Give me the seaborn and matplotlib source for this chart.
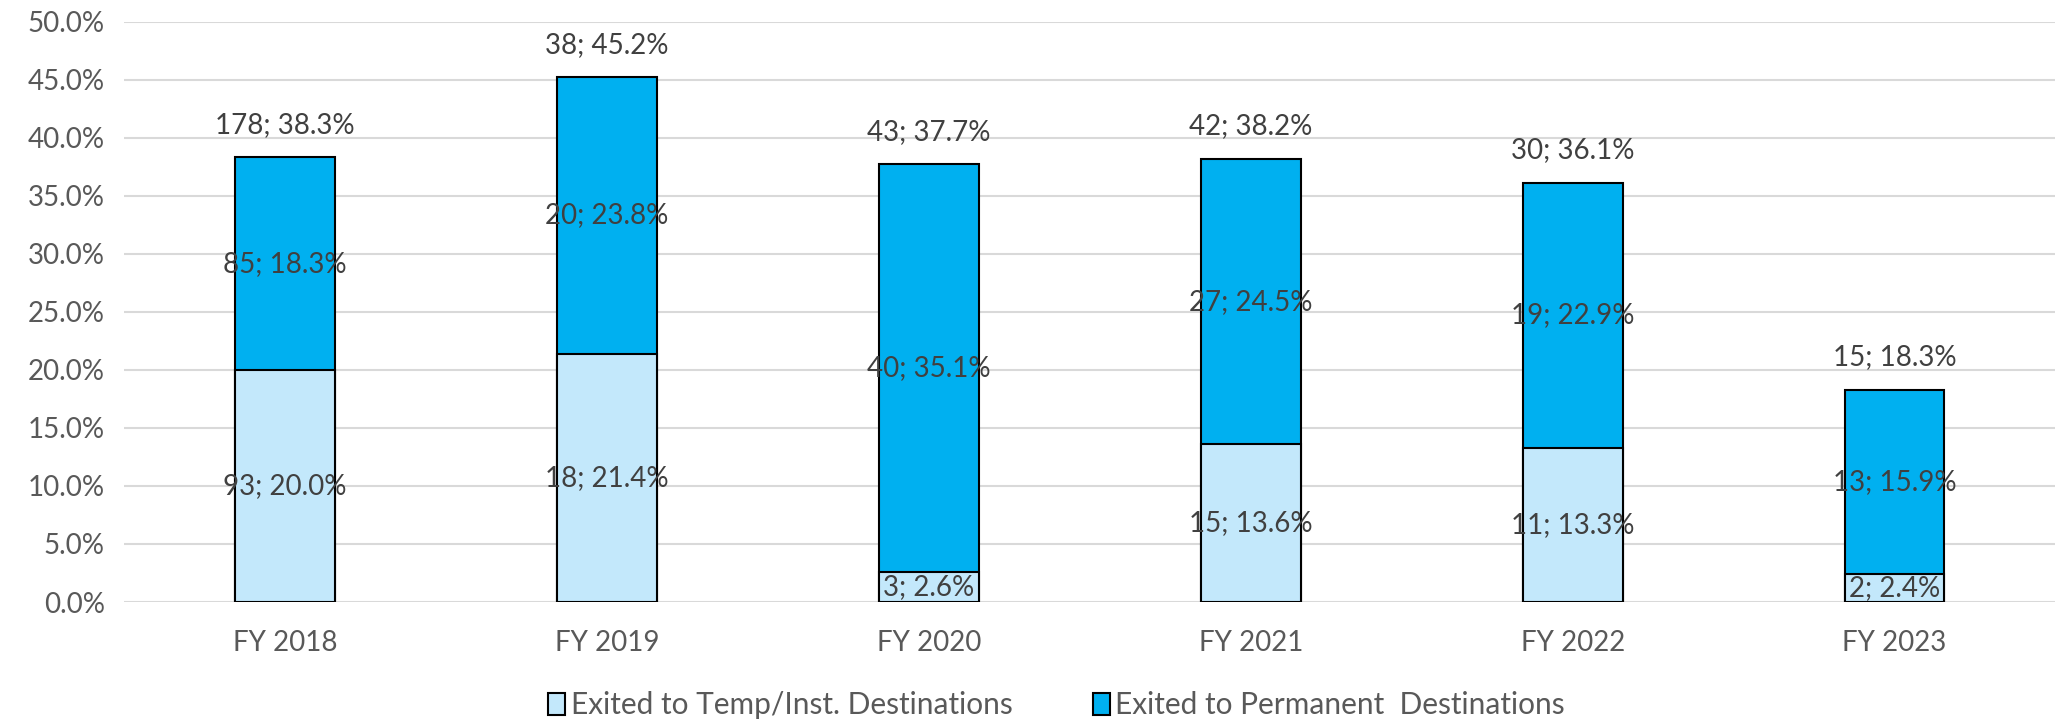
import matplotlib
matplotlib.use("Agg")
import matplotlib.pyplot as plt
from matplotlib.patches import Patch
from matplotlib.ticker import PercentFormatter, MultipleLocator
import seaborn as sns
import pandas as pd

years = ["FY 2018", "FY 2019", "FY 2020", "FY 2021", "FY 2022", "FY 2023"]
temp_n = [93, 18, 3, 15, 11, 2]
temp_pct = [20.0, 21.4, 2.6, 13.6, 13.3, 2.4]
perm_n = [85, 20, 40, 27, 19, 13]
perm_pct = [18.3, 23.8, 35.1, 24.5, 22.9, 15.9]
total_n = [178, 38, 43, 42, 30, 15]
total_pct = [38.3, 45.2, 37.7, 38.2, 36.1, 18.3]

LIGHT = "#C3E8FB"
DARK = "#00B0F0"
TXT = "#404040"
TICK = "#595959"

sns.set_theme(style="white")
plt.rcParams["font.family"] = ["Lato", "DejaVu Sans"]

df = pd.DataFrame({"year": years, "temp": temp_pct, "total": total_pct})

fig, ax = plt.subplots(figsize=(20.72, 7.21), dpi=100)
fig.subplots_adjust(left=0.06, right=0.992, top=0.97, bottom=0.165)

ax.yaxis.grid(True, color="#D9D9D9", linewidth=1.5, zorder=0)
ax.set_axisbelow(True)

w = 0.31
sns.barplot(data=df, x="year", y="total", color=DARK, saturation=1, width=w,
            edgecolor="black", linewidth=1.5, ax=ax, zorder=2)
sns.barplot(data=df, x="year", y="temp", color=LIGHT, saturation=1, width=w,
            edgecolor="black", linewidth=1.5, ax=ax, zorder=3)

fs = 20
for i in range(len(years)):
    ax.text(i, temp_pct[i] / 2, f"{temp_n[i]}; {temp_pct[i]:.1f}%", ha="center",
            va="center", fontsize=fs, color=TXT, zorder=5)
    ax.text(i, temp_pct[i] + perm_pct[i] / 2, f"{perm_n[i]}; {perm_pct[i]:.1f}%",
            ha="center", va="center", fontsize=fs, color=TXT, zorder=5)
    ax.text(i, total_pct[i] + 1.7, f"{total_n[i]}; {total_pct[i]:.1f}%", ha="center",
            va="bottom", fontsize=fs, color=TXT, zorder=5)

ax.set_ylim(0, 50)
ax.set_xlim(-0.5, len(years) - 0.5)
ax.yaxis.set_major_locator(MultipleLocator(5))
ax.yaxis.set_major_formatter(PercentFormatter(decimals=1))
ax.set_xlabel("")
ax.set_ylabel("")
ax.tick_params(axis="y", labelsize=fs, colors=TICK, length=0, pad=14)
ax.tick_params(axis="x", labelsize=fs, colors=TICK, length=0, pad=20)
for s in ax.spines.values():
    s.set_visible(False)

handles = [Patch(facecolor=LIGHT, edgecolor="black", linewidth=1.5),
           Patch(facecolor=DARK, edgecolor="black", linewidth=1.5)]
labels = ["Exited to Temp/Inst. Destinations", "Exited to Permanent  Destinations"]
leg = fig.legend(handles, labels, loc="lower center", bbox_to_anchor=(0.51, -0.035),
                 ncol=2, frameon=False, fontsize=21.5, handlelength=0.55, handleheight=0.75,
                 handletextpad=0.2, columnspacing=2.7)
for t in leg.get_texts():
    t.set_color(TICK)

fig.savefig("out.png", dpi=100)
